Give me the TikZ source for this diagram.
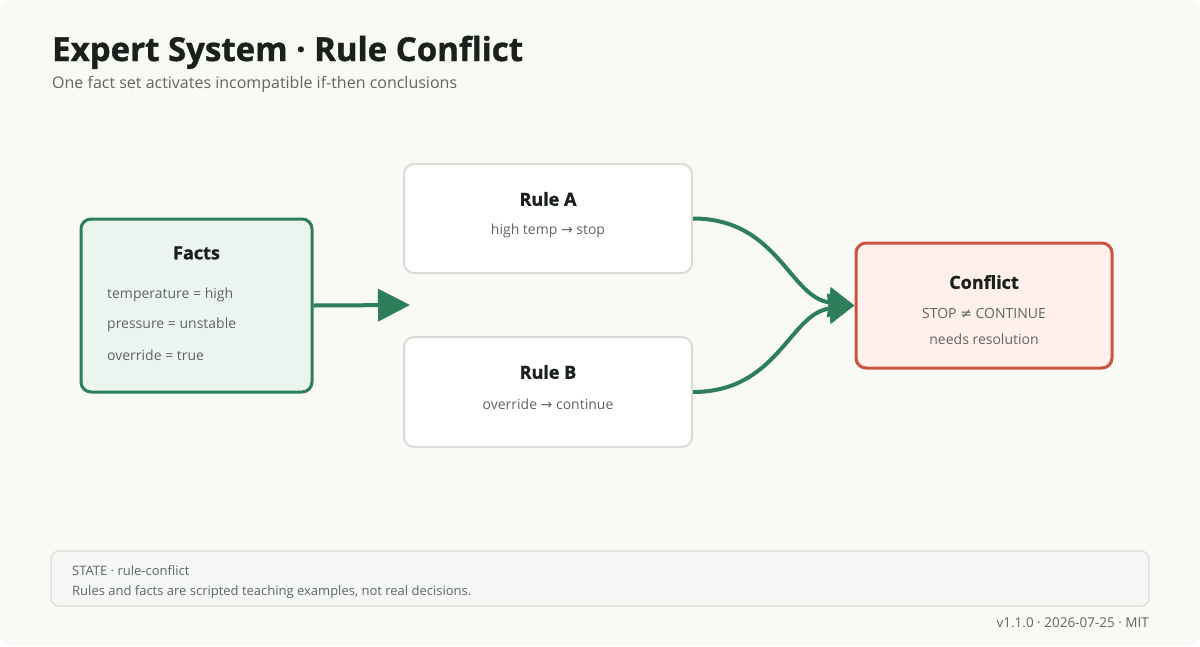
\documentclass[tikz,border=0pt]{standalone}
\usepackage{fontspec}
\setmainfont{Open Sans}
\newfontfamily\heavyfont[BoldFeatures={FakeBold=1.2}]{Open Sans}
\newfontfamily\symfont{DejaVu Sans}
\usetikzlibrary{arrows.meta}
\definecolor{pagebg}{HTML}{F9FAF6}
\definecolor{ink}{HTML}{1A201C}
\definecolor{muted}{HTML}{5F6661}
\definecolor{okgreen}{HTML}{2E7D5B}
\definecolor{okfill}{HTML}{EBF4EF}
\definecolor{rulegrey}{HTML}{D9DCD6}
\definecolor{badred}{HTML}{C9553F}
\definecolor{badfill}{HTML}{FFF0EC}
\definecolor{notefill}{HTML}{F5F7F5}
\tikzset{
  card/.style={draw=rulegrey, line width=2pt, fill=white, rounded corners=10pt, inner sep=0pt},
  cardhead/.style={font=\heavyfont\bfseries\fontsize{18}{20}\selectfont, text=ink},
  cardline/.style={font=\fontsize{14}{16}\selectfont, text=muted},
  footline/.style={font=\fontsize{13}{15}\selectfont, text=muted, inner sep=0pt},
  flow/.style={draw=okgreen, line width=4pt}
}
\begin{document}
\begin{tikzpicture}[x=1pt,y=-1pt]
\useasboundingbox (0,0) rectangle (1200,646);
\fill[pagebg, rounded corners=12pt] (0,0) rectangle (1200,646);

% Title
\node[anchor=base west, font=\heavyfont\bfseries\fontsize{33}{38}\selectfont, text=ink, inner sep=0pt] (title) at (52,61) {Expert System · Rule Conflict};
\node[anchor=west, font=\fontsize{16}{19}\selectfont, text=muted, inner sep=0pt] (subtitle) at (52,84) {One fact set activates incompatible if-then conclusions};

% Facts
\node[card, draw=okgreen, line width=3pt, fill=okfill, minimum width=231pt, minimum height=173pt] (facts) at (196.5,305.5) {};
\node[cardhead] (factshead) at (196.5,253) {Facts};
\node[cardline, anchor=west, inner sep=0pt] (fact1) at (107,295) {temperature = high};
\node[cardline, anchor=west, inner sep=0pt] (fact2) at (107,325) {pressure = unstable};
\node[cardline, anchor=west, inner sep=0pt] (fact3) at (107,355) {override = true};

% Rules
\node[card, minimum width=288pt, minimum height=109pt] (rulea) at (548,218.5) {};
\node[cardhead] (ruleahead) at (548,199) {Rule A};
\node[cardline] (ruleatext) at (548,231) {high temp {\symfont →} stop};

\node[card, minimum width=288pt, minimum height=110pt] (ruleb) at (548,392) {};
\node[cardhead] (rulebhead) at (548,372) {Rule B};
\node[cardline] (rulebtext) at (548,404) {override {\symfont →} continue};

% Conflict
\node[card, draw=badred, line width=3pt, fill=badfill, minimum width=256pt, minimum height=125pt] (conflict) at (984,305.5) {};
\node[cardhead] (conflicthead) at (984,282) {Conflict};
\node[cardline] (conflicttext) at (984,313) {STOP {\symfont ≠} CONTINUE};
\node[cardline] (conflictnote) at (984,339) {needs resolution};

% Arrows
\coordinate (feed) at (410,305);
\draw[flow, -{Triangle[length=32pt,width=32pt]}] (facts.east) -- (feed);
\draw[flow, -{Triangle[length=26pt,width=30pt]}] (rulea.east) .. controls +(85,0) and +(-65,-8) .. (conflict.west);
\draw[flow, -{Triangle[length=26pt,width=30pt]}] (ruleb.east) .. controls +(85,0) and +(-65,8) .. (conflict.west);

% Footer
\node[card, fill=notefill, line width=1.2pt, rounded corners=8pt, minimum width=1098pt, minimum height=55pt] (note) at (600,578.5) {};
\node[footline, anchor=west] (state) at (72,571) {STATE · rule-conflict};
\node[footline, anchor=west] (disclaimer) at (72,592) {Rules and facts are scripted teaching examples, not real decisions.};
\node[footline, anchor=east, font=\fontsize{13.5}{15}\selectfont] (version) at (1149,623) {v1.1.0 · 2026-07-25 · MIT};

\end{tikzpicture}
\end{document}
